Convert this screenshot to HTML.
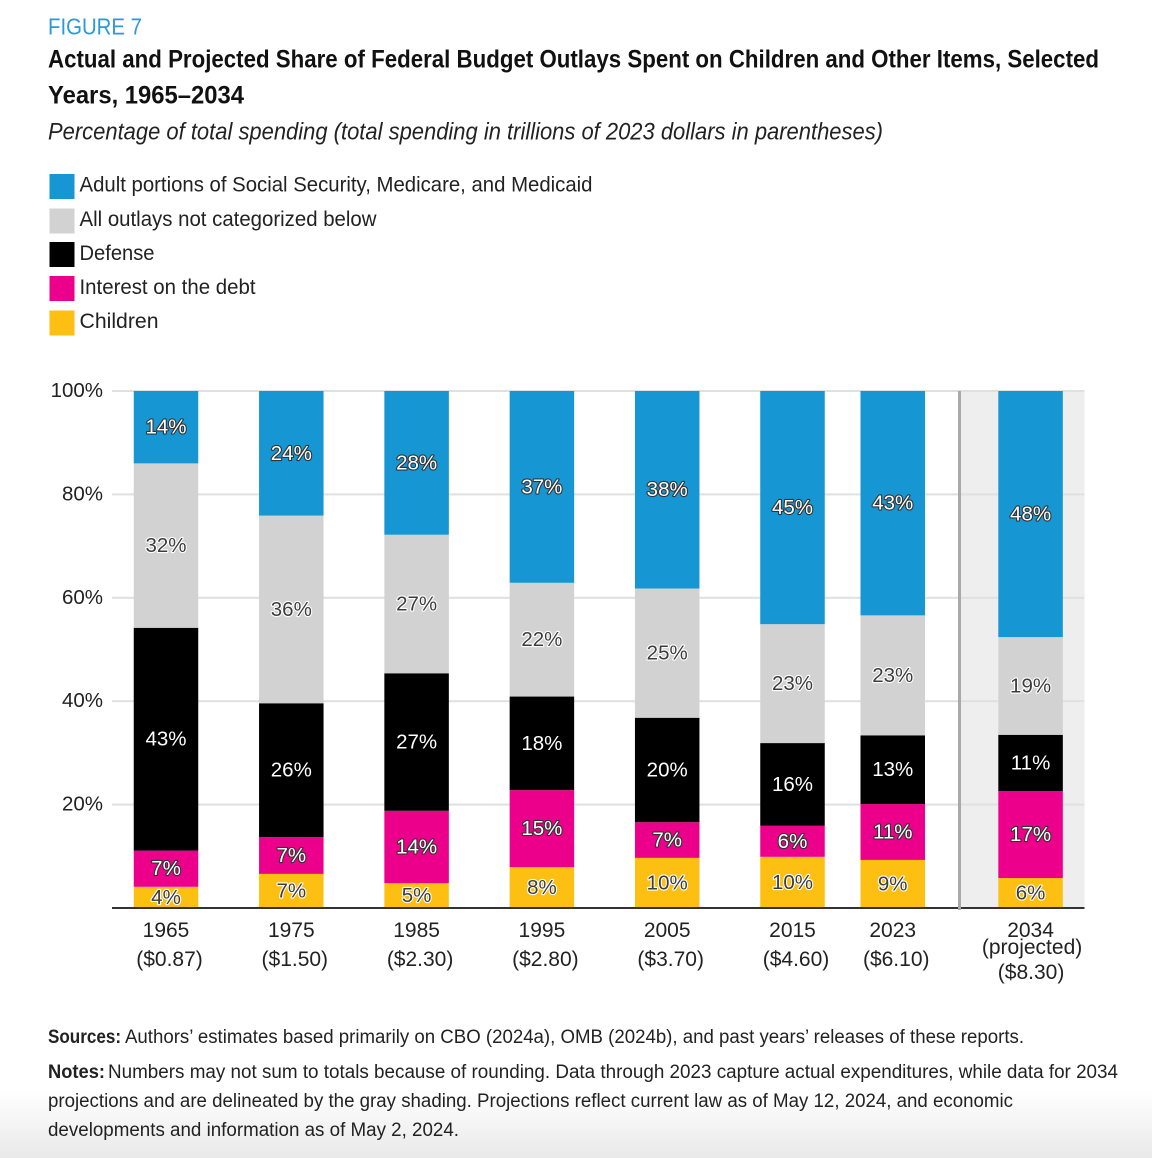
<!DOCTYPE html>
<html lang="en">
<head>
<meta charset="utf-8">
<title>Figure 7</title>
<style>
html,body{margin:0;padding:0;background:#fff;}
svg{display:block;font-family:"Liberation Sans",sans-serif;}
.leg{font-size:21px;fill:#222;}
.foot{font-size:19px;fill:#222;}
</style>
</head>
<body>
<svg id="chart" xmlns="http://www.w3.org/2000/svg" width="1152" height="1158" viewBox="0 0 1152 1158">
  <defs>
    <linearGradient id="fade" x1="0" y1="0" x2="0" y2="1">
      <stop offset="0" stop-color="#ffffff"/>
      <stop offset="1" stop-color="#e9e9e9"/>
    </linearGradient>
  </defs>
  <rect x="0" y="0" width="1152" height="1158" fill="#fff"/>
  <rect x="0" y="1090" width="1152" height="68" fill="url(#fade)"/>

  <text x="48" y="34.500" font-size="23" fill="#2c9ad6" textLength="94" lengthAdjust="spacingAndGlyphs">FIGURE 7</text>
  <text x="48" y="67.500" font-size="25" font-weight="bold" fill="#111" textLength="1051" lengthAdjust="spacingAndGlyphs">Actual and Projected Share of Federal Budget Outlays Spent on Children and Other Items, Selected</text>
  <text x="48" y="103.500" font-size="25" font-weight="bold" fill="#111" textLength="196" lengthAdjust="spacingAndGlyphs">Years, 1965–2034</text>
  <text x="48" y="139.500" font-size="24" font-style="italic" fill="#222" textLength="835" lengthAdjust="spacingAndGlyphs">Percentage of total spending (total spending in trillions of 2023 dollars in parentheses)</text>

  <g>
    <rect x="49.500" y="174" width="25" height="25" fill="#1696d2"/>
    <text class="leg" x="79.500" y="191.500" textLength="513" lengthAdjust="spacingAndGlyphs">Adult portions of Social Security, Medicare, and Medicaid</text>
    <rect x="49.500" y="208.500" width="25" height="25" fill="#d2d2d2"/>
    <text class="leg" x="79.500" y="226" textLength="297" lengthAdjust="spacingAndGlyphs">All outlays not categorized below</text>
    <rect x="49.500" y="242" width="25" height="25" fill="#000"/>
    <text class="leg" x="79.500" y="260" textLength="75" lengthAdjust="spacingAndGlyphs">Defense</text>
    <rect x="49.500" y="276" width="25" height="25" fill="#ec008b"/>
    <text class="leg" x="79.500" y="294" textLength="176" lengthAdjust="spacingAndGlyphs">Interest on the debt</text>
    <rect x="49.500" y="310.500" width="25" height="25" fill="#fdbf11"/>
    <text class="leg" x="79.500" y="328" textLength="79" lengthAdjust="spacingAndGlyphs">Children</text>
  </g>

  <g id="plot"></g>

  <text class="foot" x="48" y="1043" font-weight="bold" textLength="73" lengthAdjust="spacingAndGlyphs">Sources:</text>
  <text class="foot" x="125" y="1043" textLength="899" lengthAdjust="spacingAndGlyphs">Authors’ estimates based primarily on CBO (2024a), OMB (2024b), and past years’ releases of these reports.</text>
  <text class="foot" x="48" y="1078" font-weight="bold" textLength="57" lengthAdjust="spacingAndGlyphs">Notes:</text>
  <text class="foot" x="108" y="1078" textLength="1010" lengthAdjust="spacingAndGlyphs">Numbers may not sum to totals because of rounding. Data through 2023 capture actual expenditures, while data for 2034</text>
  <text class="foot" x="48" y="1107" textLength="965" lengthAdjust="spacingAndGlyphs">projections and are delineated by the gray shading. Projections reflect current law as of May 12, 2024, and economic</text>
  <text class="foot" x="48" y="1136" textLength="411" lengthAdjust="spacingAndGlyphs">developments and information as of May 2, 2024.</text>
</svg>
<script>
const years = [1965, 1975, 1985, 1995, 2005, 2015, 2023, 2034];
const totals = ['($0.87)', '($1.50)', '($2.30)', '($2.80)', '($3.70)', '($4.60)', '($6.10)', '($8.30)'];
const children = [4.1, 6.6, 4.8, 7.9, 9.7, 9.9, 9.3, 5.8];
const interest = [7.0, 7.1, 14.0, 14.9, 6.9, 6.0, 10.8, 16.8];
const defense = [43.1, 25.9, 26.6, 18.1, 20.2, 16.0, 13.3, 10.9];
const other = [31.8, 36.3, 26.8, 22.0, 25.0, 23.0, 23.2, 18.9];
const adult = [14.0, 24.1, 27.8, 37.1, 38.2, 45.1, 43.4, 47.6];
const yTicks = [20, 40, 60, 80, 100];

const plot = document.getElementById('plot');
const NS = 'http://www.w3.org/2000/svg';
const xScale = function (year) { return 166 + (year - 1965) * 12.53; };
const yScale = function (pct) { return 908 - pct * 5.17; };
const barWidth = 64.5;

function make(tag, props, parent) {
  const el = document.createElementNS(NS, tag);
  for (const k in props) el.setAttribute(k, props[k]);
  (parent || plot).appendChild(el);
  return el;
}

const shade = make('rect', { x: 960, y: yScale(100), width: 124.5, height: yScale(0) - yScale(100), fill: '#eeeeee' });



yTicks.forEach(function (t) {
  const line = make('rect', { x: 112, y: yScale(t) - 1, width: 972.5, height: 2, fill: '#e0e0e0' });
  
  
  const label = make('text', { x: 103, y: yScale(t) + 6, 'font-size': 20.5, 'text-anchor': 'end', fill: '#222' });
  
  
  label.textContent = t + '%';
});

const seriesList = [
  { key: 'children', values: children, fill: '#fdbf11', text: '#3c3c3c', halo: '#fff' },
  { key: 'interest', values: interest, fill: '#ec008b', text: '#fff', halo: '#333' },
  { key: 'defense', values: defense, fill: '#000', text: '#fff', halo: '#000' },
  { key: 'other', values: other, fill: '#d2d2d2', text: '#3c3c3c', halo: '#fff' },
  { key: 'adult', values: adult, fill: '#1696d2', text: '#fff', halo: '#333' }
];

const labelQueue = [];
years.forEach(function (year, i) {
  let base = 0;
  seriesList.forEach(function (s) {
    const v = s.values[i];
    const yTop = yScale(base + v);
    const yBot = yScale(base);
    const bar = make('rect', { x: xScale(year) - barWidth / 2, y: yTop, width: barWidth, height: yBot - yTop, fill: s.fill });
    
    
    labelQueue.push({ x: xScale(year), y: (yTop + yBot) / 2 + 6.5, s: s, v: v, year: year });
    base += v;
  });
});

labelQueue.forEach(function (d) {
  const t = make('text', {
    x: d.x, y: d.y, 'font-size': 20.5, 'text-anchor': 'middle', fill: d.s.text,
    stroke: d.s.halo, 'stroke-width': 2.2, 'paint-order': 'stroke', 'stroke-linejoin': 'round'
  });
  
  
  t.textContent = Math.round(d.v) + '%';
});

const axisLine = make('rect', { x: 112, y: 907, width: 972.5, height: 2, fill: '#333' });



const divider = make('rect', { x: 958, y: yScale(100), width: 3, height: 519, fill: '#a9a9a9' });



years.forEach(function (year, i) {
  const isProjected = year === 2034;
  const cx = xScale(year);
  const yr = make('text', { x: cx, y: 937, 'font-size': 21, 'text-anchor': 'middle', fill: '#222' });
  
  
  yr.textContent = year;
  if (isProjected) {
    const p = make('text', { x: cx + 1.5, y: 954, 'font-size': 21, 'text-anchor': 'middle', fill: '#222' });
    
    
    p.textContent = '(projected)';
  }
  const tot = make('text', { x: cx + (isProjected ? 0.5 : 3.5), y: isProjected ? 979 : 966, 'font-size': 21, 'text-anchor': 'middle', fill: '#222' });
  
  
  tot.textContent = totals[i];
});
</script>
</body>
</html>
